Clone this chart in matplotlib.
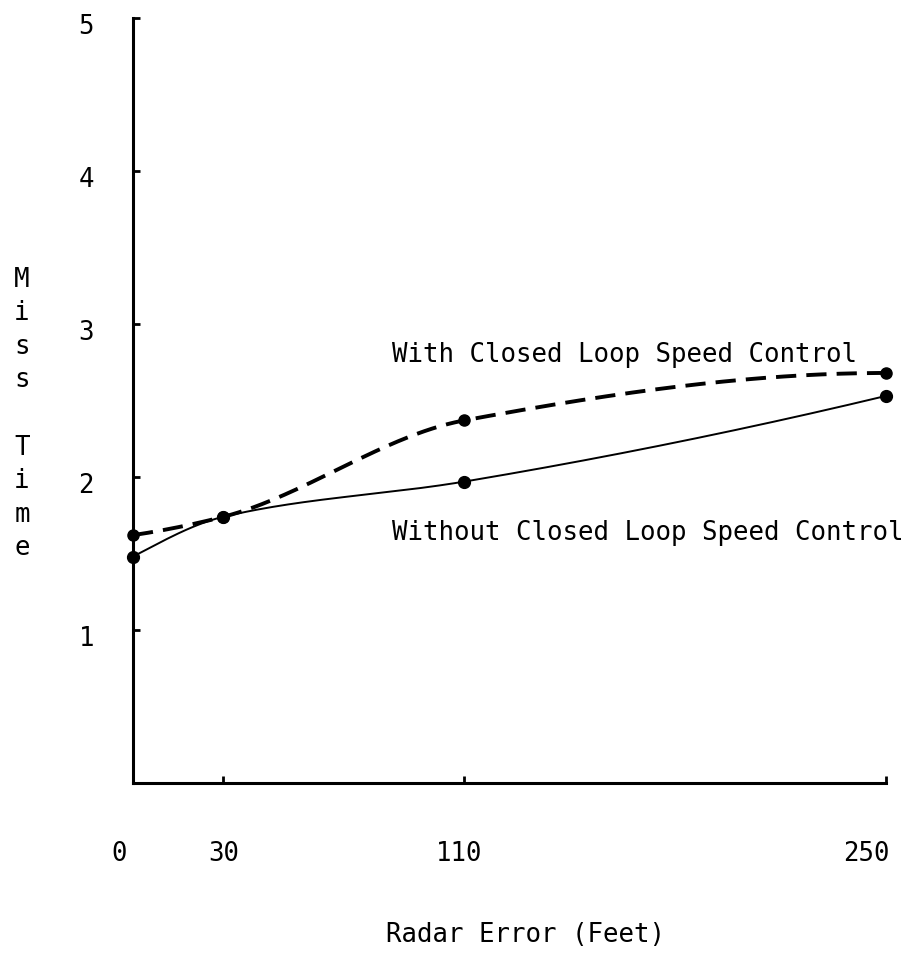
import numpy as np
import matplotlib
matplotlib.use("Agg")
import matplotlib.pyplot as plt
from matplotlib.transforms import ScaledTranslation

# values
radar_error = [0, 30, 110, 250]
miss_with = [1.62, 1.74, 2.37, 2.68]      # with closed loop speed control
miss_without = [1.48, 1.74, 1.97, 2.53]   # without closed loop speed control
x_ticks = [0, 30, 110, 250]
y_ticks = [1, 2, 3, 4, 5]


def smooth(x, y, n=200):
    # monotone cubic (pchip) through the measured points, only for drawing the curve
    x = np.asarray(x, float)
    y = np.asarray(y, float)
    h = np.diff(x)
    d = np.diff(y) / h
    m = np.zeros_like(y)
    for k in range(1, len(x) - 1):
        if d[k - 1] * d[k] > 0:
            w1 = 2 * h[k] + h[k - 1]
            w2 = h[k] + 2 * h[k - 1]
            m[k] = (w1 + w2) / (w1 / d[k - 1] + w2 / d[k])

    def end(h0, h1, d0, d1):
        s = ((2 * h0 + h1) * d0 - h0 * d1) / (h0 + h1)
        if np.sign(s) != np.sign(d0):
            s = 0.0
        return s

    m[0] = end(h[0], h[1], d[0], d[1])
    m[-1] = end(h[-1], h[-2], d[-1], d[-2])
    xs = np.linspace(x[0], x[-1], n)
    k = np.clip(np.searchsorted(x, xs) - 1, 0, len(h) - 1)
    t = (xs - x[k]) / h[k]
    ys = ((2 * t**3 - 3 * t**2 + 1) * y[k] + (t**3 - 2 * t**2 + t) * h[k] * m[k]
          + (-2 * t**3 + 3 * t**2) * y[k + 1] + (t**3 - t**2) * h[k] * m[k + 1])
    return xs, ys


plt.rcParams['font.family'] = ['DejaVu Sans Mono']
fs = 18.5

fig = plt.figure(figsize=(9.24, 9.56), dpi=100)
ax = fig.add_axes([133 / 924, 1 - 783 / 956, (886 - 133) / 924, (783 - 18) / 956])

xs, ys = smooth(radar_error, miss_with)
ax.plot(xs, ys, color='black', lw=2.8, dashes=(5.2, 2.6), clip_on=False)
ax.plot(radar_error, miss_with, 'o', color='black', ms=8, clip_on=False)

xs, ys = smooth(radar_error, miss_without)
ax.plot(xs, ys, color='black', lw=1.4, clip_on=False)
ax.plot(radar_error, miss_without, 'o', color='black', ms=8.5, clip_on=False)

ax.set_xlim(0, 250)
ax.set_ylim(0, 5)
ax.set_xticks(x_ticks)
ax.set_xticklabels([str(v) for v in x_ticks])
ax.set_yticks(y_ticks)
ax.set_yticklabels([str(v) for v in y_ticks])
ax.tick_params(axis='both', direction='in', length=5, width=2, labelsize=fs)
ax.tick_params(axis='y', pad=28)
ax.tick_params(axis='x', pad=42)

# the typed labels sit a little off their ticks in the original
shifts = [-14, 0, -5, -20]
for lab, dx in zip(ax.get_xticklabels(), shifts):
    lab.set_transform(lab.get_transform() + ScaledTranslation(dx / 100, 0, fig.dpi_scale_trans))
for lab in ax.get_yticklabels():
    lab.set_transform(lab.get_transform() + ScaledTranslation(0, -6 / 100, fig.dpi_scale_trans))

for s in ['top', 'right']:
    ax.spines[s].set_visible(False)
for s in ['left', 'bottom']:
    ax.spines[s].set_linewidth(2.2)

ax.text(86, 2.75, 'With Closed Loop Speed Control', fontsize=fs, va='baseline')
ax.text(86, 1.59, 'Without Closed Loop Speed Control', fontsize=fs, va='baseline')

fig.text(525 / 924, 1 - 935 / 956, 'Radar Error (Feet)', fontsize=fs,
         ha='center', va='center')

fig.text(22 / 924, 1 - 414 / 956, 'M\ni\ns\ns\n\nT\ni\nm\ne', fontsize=fs,
         ha='center', va='center', linespacing=1.38)

fig.savefig('out.png', dpi=100)
